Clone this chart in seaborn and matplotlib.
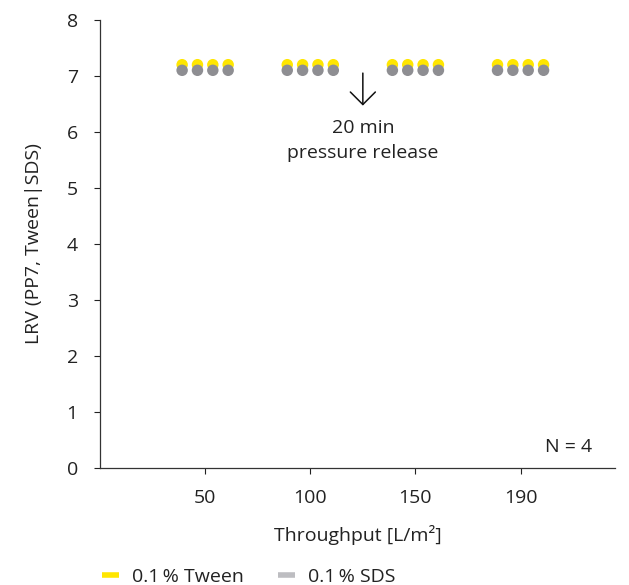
import numpy as np
import pandas as pd
import matplotlib
matplotlib.use("Agg")
import matplotlib.pyplot as plt
import seaborn as sns

# --- data ---
throughput_labels = ["50", "100", "150", "190"]
replicates = [1, 2, 3, 4]
lrv_tween = [7.2, 7.2, 7.2, 7.2]   # per replicate, same in every throughput group
lrv_sds = [7.1, 7.1, 7.1, 7.1]
series_names = ["0.1\u2009% Tween", "0.1\u2009% SDS"]

TWEEN_COLOR = "#FFE600"
SDS_COLOR = "#8E8E92"
SDS_LEGEND = "#BDBDC1"
TEXT_COLOR = "#222222"
FS = 14

rows = []
for gi, lab in enumerate(throughput_labels):
    for ri, rep in enumerate(replicates):
        xpos = gi + (ri - 1.5) * 0.146   # spread replicates inside a throughput group
        rows.append({"x": xpos, "group": lab, "series": series_names[0], "lrv": lrv_tween[ri]})
        rows.append({"x": xpos, "group": lab, "series": series_names[1], "lrv": lrv_sds[ri]})
df = pd.DataFrame(rows)

sns.set_theme(style="white")
plt.rcParams["font.family"] = ["Open Sans", "DejaVu Sans"]

fig = plt.figure(figsize=(6.29, 5.85), dpi=100)
ax = fig.add_axes([0.159, 0.2, 0.819, 0.766])

sns.scatterplot(data=df, x="x", y="lrv", hue="series",
                palette={series_names[0]: TWEEN_COLOR, series_names[1]: SDS_COLOR},
                hue_order=series_names, s=68, linewidth=0, legend=False, ax=ax, zorder=3)

ax.set_xlim(-1.0, 3.9)
ax.set_ylim(0, 8)
ax.set_yticks(range(0, 9))
ax.set_xticks(range(len(throughput_labels)))
ax.set_xticklabels(throughput_labels)
ax.tick_params(axis="both", labelsize=FS, colors=TEXT_COLOR, length=4, width=0.8,
               direction="out", bottom=True, left=True)
ax.tick_params(axis="x", pad=11)
ax.tick_params(axis="y", pad=12)
for side in ["top", "right"]:
    ax.spines[side].set_visible(False)
for side in ["left", "bottom"]:
    ax.spines[side].set_color("#333333")
    ax.spines[side].set_linewidth(0.9)

ax.set_xlabel("Throughput [L/m²]", fontsize=FS, color=TEXT_COLOR, va="center")
ax.set_ylabel("LRV (PP7, Tween|SDS)", fontsize=FS, color=TEXT_COLOR, va="center")
ax.xaxis.set_label_coords(0.5, -0.149)
ax.yaxis.set_label_coords(-0.128, 0.5)

# pressure release annotation
ax.annotate("", xy=(1.5, 6.47), xytext=(1.5, 7.05),
            arrowprops=dict(arrowstyle="->, head_length=0.5, head_width=0.5",
                            color="#111111", lw=1.1, mutation_scale=18,
                            shrinkA=0, shrinkB=0))
ax.text(1.5, 6.07, "20 min", ha="center", va="center", fontsize=FS, color=TEXT_COLOR)
ax.text(1.5, 5.62, "pressure release", ha="center", va="center", fontsize=FS, color=TEXT_COLOR)
ax.text(3.68, 0.37, "N = 4", ha="right", va="center", fontsize=FS, color=TEXT_COLOR)

# legend below the axes
handles = [plt.Line2D([], [], color=TWEEN_COLOR, lw=4, solid_capstyle="butt"),
           plt.Line2D([], [], color=SDS_LEGEND, lw=4, solid_capstyle="butt")]
fig.legend(handles, series_names, loc="center left",
           bbox_to_anchor=(102 / 629, 1 - 577 / 585),
           ncol=2, frameon=False, fontsize=FS, handlelength=0.87, handletextpad=0.67,
           columnspacing=1.75, borderpad=0, borderaxespad=0, labelcolor=TEXT_COLOR)

fig.savefig("out.png", dpi=100)
